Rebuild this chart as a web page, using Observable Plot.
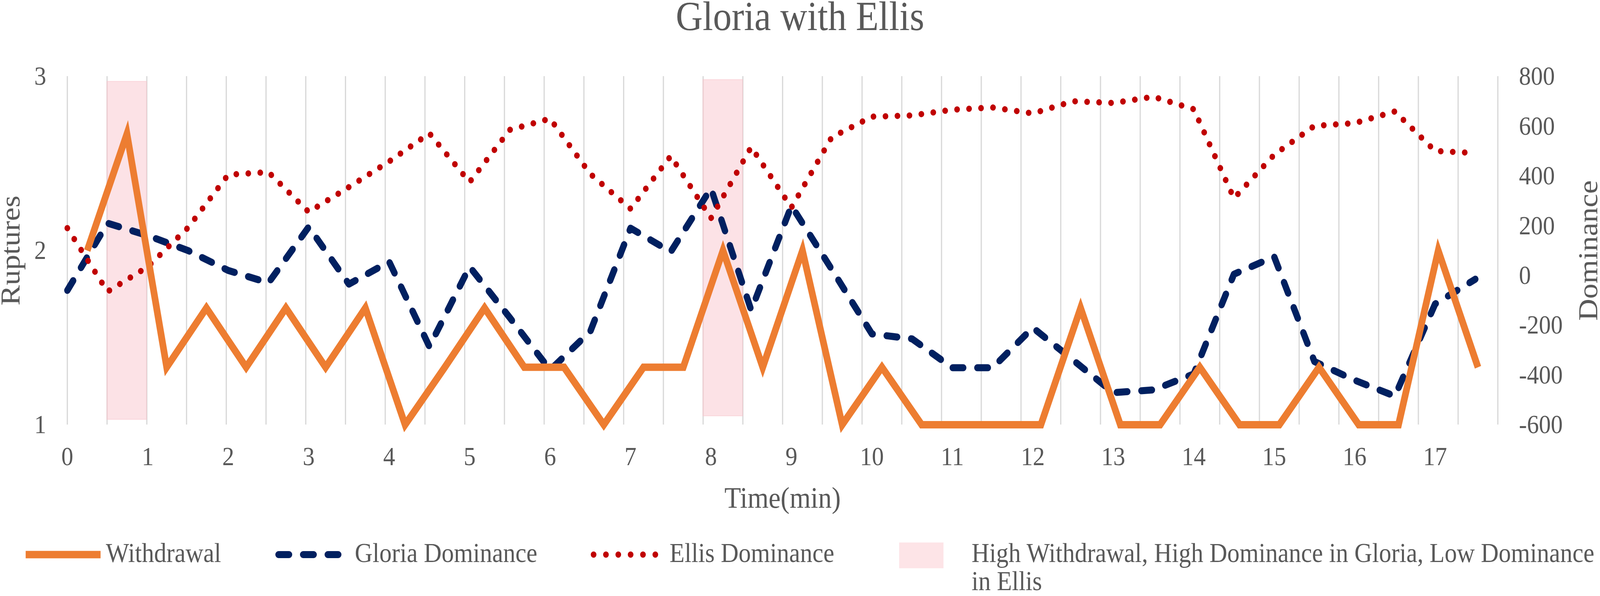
<!DOCTYPE html>
<html>
<head>
<meta charset="utf-8">
<script src="https://cdn.jsdelivr.net/npm/d3@7"></script>
<script src="https://cdn.jsdelivr.net/npm/@observablehq/plot@0.6"></script>
<style>
  html, body { margin: 0; padding: 0; background: #ffffff; overflow: hidden; }
  #outer { position: relative; overflow: hidden; width: 4550px; height: 1526px; }
  #wrap { position: absolute; left: 0; top: 0; width: 4550px; height: 1526px; overflow: hidden;
          transform-origin: 0 0;
          font-family: "Liberation Serif", "Times New Roman", serif; color: #595959; background: #fff; }
  #title { position: absolute; left: 0; top: 0; width: 4550px; text-align: center;
           font-size: 106px; line-height: 84px; white-space: nowrap; }
  #chart { position: absolute; left: 0; top: 120px; }
  #legend { position: absolute; left: 0; top: 1320px; width: 4550px; height: 206px; }
  .lg { position: absolute; top: 60px; font-size: 70px; line-height: 72px; white-space: nowrap; }
  .sw { position: absolute; overflow: visible; }
</style>
</head>
<body>
<div id="outer">
<div id="wrap">
  <div id="title">Gloria with Ellis</div>
  <div id="chart"></div>
  <div id="legend"></div>
</div>
</div>
<script>
// ---------- data ----------
// time (minutes) of the dominance samples
const minutes = [0, 0.5, 1, 1.5, 2, 2.5, 3, 3.5, 4, 4.5, 5, 5.5, 6, 6.5, 7, 7.5, 8, 8.5,
                 9, 9.5, 10, 10.5, 11, 11.5, 12, 12.5, 13, 13.5, 14, 14.5, 15, 15.5, 16, 16.5, 17, 17.5];

// Withdrawal ruptures, one value per 30-s category (left axis)
const withdrawal = [2, 2.67, 1.33, 1.67, 1.33, 1.67, 1.33, 1.67, 1, 1.33, 1.67, 1.33,
                    1.33, 1, 1.33, 1.33, 2, 1.33, 2, 1, 1.33, 1, 1, 1,
                    1, 1.67, 1, 1, 1.33, 1, 1, 1.33, 1, 1, 2, 1.33];

// Gloria dominance (right axis)
const gloria = [-60, 210, 160, 100, 20, -30, 195, -35, 55, -286, 35, -170,
                -380, -225, 190, 95, 350, -140, 280, 25, -235, -255, -371, -371,
                -210, -340, -471, -460, -396, 5, 75, -346, -421, -485, -115, -15];

// Ellis dominance (right axis)
const ellis = [190, -65, 35, 192, 405, 415, 255, 355, 458, 571, 375, 585,
               630, 408, 268, 480, 230, 516, 273, 555, 638, 643, 666, 675,
               651, 700, 693, 718, 668, 310, 485, 601, 612, 659, 500, 492];

// highlighted categories (High Withdrawal, High Dominance in Gloria, Low Dominance in Ellis)
const bandCategories = [1, 16];
const bandLow = [1.03, 1.05];
const bandHigh = [2.97, 2.98];

// axes
const xTicks = [0, 1, 2, 3, 4, 5, 6, 7, 8, 9, 10, 11, 12, 13, 14, 15, 16, 17];
const rupturesTicks = [1, 2, 3];
const dominanceTicks = [-600, -400, -200, 0, 200, 400, 600, 800];
const dominanceDomain = [-600, 800];
const rupturesDomain = [1, 3];

// primary category axis (36 categories) spans the time axis 0..timeAxisMax
const categoryCount = 36;
const timeAxisMax = 17.78;
const catW = timeAxisMax / categoryCount;

// ---------- helpers ----------
const toR = d => rupturesDomain[0] + (d - dominanceDomain[0]) * (rupturesDomain[1] - rupturesDomain[0]) / (dominanceDomain[1] - dominanceDomain[0]);
const fromR = v => Math.round(dominanceDomain[0] + (v - rupturesDomain[0]) * (dominanceDomain[1] - dominanceDomain[0]) / (rupturesDomain[1] - rupturesDomain[0]));

const gridBounds = d3.range(categoryCount + 1);
const bands = bandCategories.map((c, i) => ({c, lo: bandLow[i], hi: bandHigh[i]}));

const ORANGE = "#ED7D31", BLUE = "#002060", RED = "#C00000", PINK = "#f9c6cd";

const chart = Plot.plot({
  width: 4550,
  height: 1200,
  marginLeft: 191,
  marginRight: 291,
  marginTop: 75,
  marginBottom: 233,
  style: {
    fontFamily: '"Liberation Serif", "Times New Roman", serif',
    fontSize: "68px",
    color: "#595959",
    background: "white",
    overflow: "visible"
  },
  x: {domain: [0, timeAxisMax], label: null},
  y: {domain: rupturesDomain, label: null},
  marks: [
    Plot.ruleX(gridBounds, {x: d => d * catW, stroke: "#d9d9d9", strokeWidth: 3.5}),
    Plot.rect(bands, {x1: d => d.c * catW, x2: d => (d.c + 1) * catW, y1: "lo", y2: "hi",
                      fill: PINK, fillOpacity: 0.5, stroke: PINK, strokeOpacity: 0.6, strokeWidth: 2}),
    Plot.axisX({ticks: xTicks, tickSize: 0, tickPadding: 55, tickFormat: d => String(d), fontSize: 68, label: null}),
    Plot.axisY({ticks: rupturesTicks, anchor: "left", tickSize: 0, tickPadding: 60, tickFormat: d => String(d), fontSize: 68, label: null}),
    Plot.axisY({ticks: dominanceTicks.map(toR), anchor: "right", tickSize: 0, tickPadding: 60,
                tickFormat: v => String(fromR(v)), fontSize: 68, label: null}),
    Plot.line(gloria, {x: (d, i) => minutes[i], y: d => toR(d), stroke: BLUE, strokeWidth: 18,
                       strokeDasharray: "30 40", strokeLinecap: "round", strokeLinejoin: "round"}),
    Plot.line(ellis, {x: (d, i) => minutes[i], y: d => toR(d), stroke: RED, strokeWidth: 16,
                      strokeDasharray: "0.1 34", strokeLinecap: "round", strokeLinejoin: "round"}),
    Plot.line(withdrawal, {x: (d, i) => (i + 0.5) * catW, y: d => d, stroke: ORANGE, strokeWidth: 19,
                           strokeLinecap: "butt", strokeLinejoin: "miter", strokeMiterlimit: 4}),
    Plot.text(["Ruptures"], {text: d => d, frameAnchor: "left", textAnchor: "middle", lineAnchor: "middle",
                             dx: -161, rotate: -90, fontSize: 78, fill: "#595959"}),
    Plot.text(["Dominance"], {text: d => d, frameAnchor: "right", textAnchor: "middle", lineAnchor: "middle",
                              dx: 258, rotate: -90, fontSize: 78, fill: "#595959"}),
    Plot.text(["Time(min)"], {text: d => d, frameAnchor: "bottom", textAnchor: "middle", lineAnchor: "middle",
                              dy: 188, fontSize: 77, fill: "#595959"})
  ]
});
document.getElementById("chart").appendChild(chart);

// ---------- legend ----------
const legend = document.getElementById("legend");
const NS = "http://www.w3.org/2000/svg";
function swatch(left, top, w, h, build) {
  const s = document.createElementNS(NS, "svg");
  s.setAttribute("class", "sw");
  s.setAttribute("width", w);
  s.setAttribute("height", h);
  s.style.left = left + "px";
  s.style.top = top + "px";
  build(s);
  legend.appendChild(s);
}
function lineEl(s, x1, x2, y, attrs) {
  const l = document.createElementNS(NS, "line");
  l.setAttribute("x1", x1); l.setAttribute("x2", x2);
  l.setAttribute("y1", y); l.setAttribute("y2", y);
  for (const k in attrs) l.setAttribute(k, attrs[k]);
  s.appendChild(l);
}
function label(left, html) {
  const d = document.createElement("div");
  d.className = "lg";
  d.style.left = left + "px";
  d.innerHTML = html;
  legend.appendChild(d);
}
swatch(73, 80, 213, 40, s => lineEl(s, 0, 213, 20, {stroke: ORANGE, "stroke-width": 19}));
label(301, "Withdrawal");
swatch(783, 80, 192, 40, s => lineEl(s, 9, 181, 20, {stroke: BLUE, "stroke-width": 18, "stroke-dasharray": "30 40", "stroke-linecap": "round"}));
label(1009, "Gloria Dominance");
swatch(1680, 80, 200, 40, s => lineEl(s, 8, 184, 20, {stroke: RED, "stroke-width": 16, "stroke-dasharray": "0.1 35", "stroke-linecap": "round"}));
label(1904, "Ellis Dominance");
swatch(2557, 69, 126, 66, s => {
  const r = document.createElementNS(NS, "rect");
  r.setAttribute("width", 126); r.setAttribute("height", 66);
  r.setAttribute("fill", "#fde4e7");
  s.appendChild(r);
});
label(2763, "High Withdrawal, High Dominance in Gloria, Low Dominance<br>in Ellis");

// ---------- fit the 4550x1526 layout into the actual viewport ----------
(function fit() {
  const vw = window.innerWidth || document.documentElement.clientWidth || 4550;
  let vh = window.innerHeight || document.documentElement.clientHeight || 1526;
  const sx = vw / 4550;
  let sy = vh / 1526;
  if (!(sy > 0.3)) sy = sx;
  const outer = document.getElementById("outer");
  const wrap = document.getElementById("wrap");
  outer.style.width = (4550 * sx) + "px";
  outer.style.height = (1526 * sy) + "px";
  wrap.style.transform = "scale(" + sx + "," + sy + ")";
})();
</script>
</body>
</html>
